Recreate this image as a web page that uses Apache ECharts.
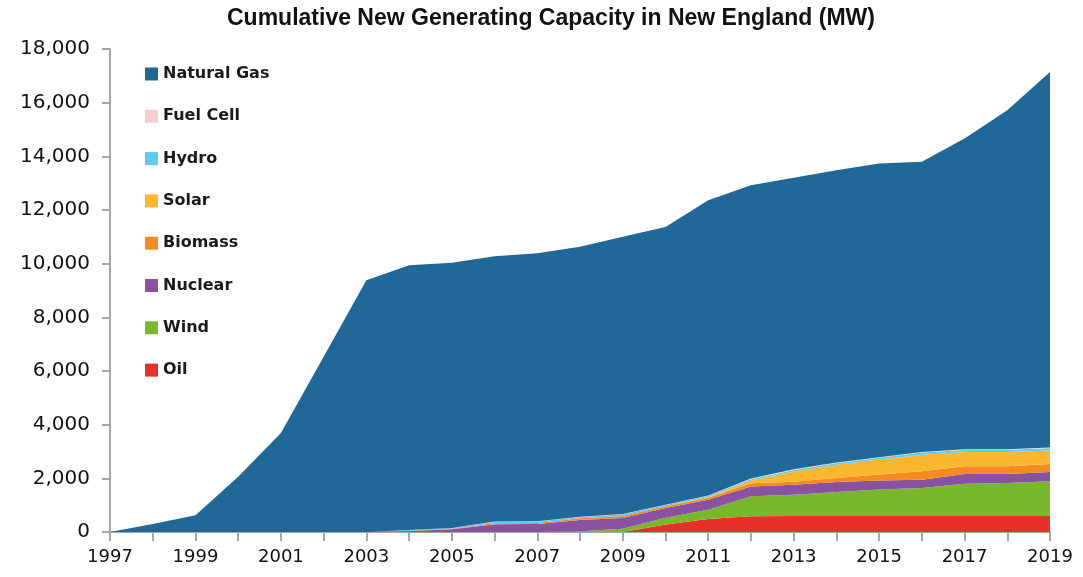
<!DOCTYPE html>
<html>
<head>
<meta charset="utf-8">
<title>Cumulative New Generating Capacity in New England</title>
<script src="https://cdn.jsdelivr.net/npm/echarts@6/dist/echarts.min.js"></script>
<style>
  html, body { margin: 0; padding: 0; background: #fff; }
  #chart { width: 1083px; height: 577px; }
</style>
</head>
<body>
<div id="chart"></div>
<script>
// years on the x axis
var years = ["1997", "1998", "1999", "2000", "2001", "2002", "2003", "2004", "2005", "2006", "2007", "2008",
  "2009", "2010", "2011", "2012", "2013", "2014", "2015", "2016", "2017", "2018", "2019"];

// cumulative MW by fuel (stack order bottom -> top)
var oil = [0, 0, 0, 0, 0, 0, 0, 0, 0, 0, 0, 0, 0, 280, 480, 590, 600, 600, 600, 600, 600, 600, 600];
var wind = [0, 0, 0, 0, 0, 0, 0, 0, 0, 0, 0, 30, 120, 250, 350, 740, 790, 890, 980, 1040, 1200, 1225, 1290];
var nuclear = [0, 0, 0, 0, 0, 0, 0, 40, 100, 290, 300, 420, 400, 360, 370, 370, 370, 370, 340, 310, 360, 335, 345];
var biomass = [0, 0, 0, 0, 0, 0, 0, 10, 20, 40, 40, 60, 80, 70, 80, 120, 110, 150, 220, 310, 290, 290, 300];
var solar = [0, 0, 0, 0, 0, 0, 0, 0, 0, 0, 0, 0, 0, 0, 20, 90, 385, 500, 560, 620, 530, 535, 500];
var hydro = [0, 0, 0, 0, 0, 0, 0, 20, 30, 50, 50, 50, 60, 50, 50, 60, 60, 60, 70, 80, 80, 80, 90];
var fuelCell = [0, 0, 0, 0, 0, 0, 0, 0, 0, 10, 10, 10, 10, 10, 10, 20, 20, 20, 20, 20, 20, 20, 20];
var naturalGas = [0, 300, 620, 2060, 3690, 6530, 9385, 9875, 9880, 9890, 9990, 10060, 10330, 10350, 11005,
  10934, 10865, 10890, 10940, 10820, 11580, 12635, 13998];

var yTicks = { min: 0, max: 18000, interval: 2000 };

// legend is listed top -> bottom, i.e. reverse of the stack
var legendOrder = ["Natural Gas", "Fuel Cell", "Hydro", "Solar", "Biomass", "Nuclear", "Wind", "Oil"];

var layers = [
  { name: "Oil", data: oil, color: "#e8302a" },
  { name: "Wind", data: wind, color: "#78b82a" },
  { name: "Nuclear", data: nuclear, color: "#8852a1" },
  { name: "Biomass", data: biomass, color: "#f58b20" },
  { name: "Solar", data: solar, color: "#fbb82e" },
  { name: "Hydro", data: hydro, color: "#5fcbf2" },
  { name: "Fuel Cell", data: fuelCell, color: "#f9ccd3" },
  { name: "Natural Gas", data: naturalGas, color: "#1f6897" }
];

var series = layers.map(function (l) {
  return {
    name: l.name,
    type: "line",
    stack: "total",
    data: l.data,
    showSymbol: false,
    symbol: "none",
    color: l.color,
    lineStyle: { width: 0 },
    areaStyle: { color: l.color, opacity: 1 },
    emphasis: { disabled: true }
  };
});

var myChart = echarts.init(document.getElementById("chart"));
myChart.setOption({
  animation: false,
  title: {
    text: "Cumulative New Generating Capacity in New England (MW)",
    left: 222,
    top: 2,
    textStyle: { fontFamily: "Liberation Sans", fontSize: 23, fontWeight: "bold", color: "#111" }
  },
  legend: {
    data: legendOrder,
    orient: "vertical",
    left: 140,
    top: 61,
    itemWidth: 13,
    itemHeight: 13,
    itemGap: 26.3,
    icon: "rect",
    textStyle: { fontFamily: "DejaVu Sans", fontSize: 16, fontWeight: "bold", color: "#1a1a1a" }
  },
  grid: { left: 110, right: 33, top: 49, bottom: 45 },
  xAxis: {
    type: "category",
    data: years,
    boundaryGap: false,
    axisLine: { lineStyle: { color: "#a6a6a6", width: 2 } },
    axisTick: { show: true, interval: 0, length: 9, lineStyle: { color: "#a6a6a6", width: 2 } },
    axisLabel: {
      interval: 1,
      margin: 16,
      fontFamily: "DejaVu Sans",
      fontSize: 18,
      color: "#111"
    },
    splitLine: { show: false }
  },
  yAxis: {
    type: "value",
    min: yTicks.min,
    max: yTicks.max,
    interval: yTicks.interval,
    axisLine: { show: true, lineStyle: { color: "#a6a6a6", width: 2 } },
    axisTick: { show: true, length: 8, lineStyle: { color: "#a6a6a6", width: 2 } },
    axisLabel: {
      margin: 20,
      fontFamily: "DejaVu Sans",
      fontSize: 20,
      color: "#111",
      formatter: function (v) { return v.toLocaleString("en-US"); }
    },
    splitLine: { show: false }
  },
  series: series
});
</script>
</body>
</html>
